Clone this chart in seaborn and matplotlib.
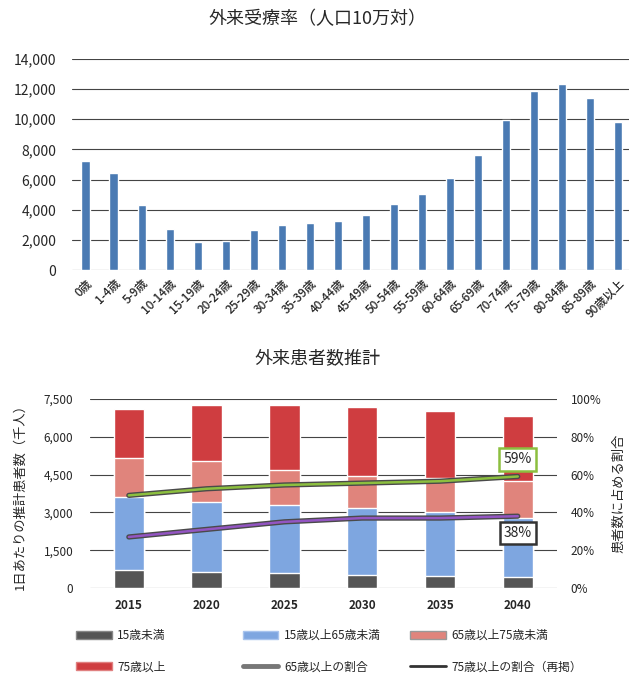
import numpy as np
import pandas as pd
import matplotlib
matplotlib.use("Agg")
import matplotlib.pyplot as plt
import seaborn as sns
from matplotlib.patches import Patch
from matplotlib.lines import Line2D

# 外来受療率（人口10万対）
age_groups = ["0歳", "1-4歳", "5-9歳", "10-14歳", "15-19歳", "20-24歳", "25-29歳",
              "30-34歳", "35-39歳", "40-44歳", "45-49歳", "50-54歳", "55-59歳",
              "60-64歳", "65-69歳", "70-74歳", "75-79歳", "80-84歳", "85-89歳", "90歳以上"]
rate = [7200, 6450, 4300, 2700, 1850, 1950, 2650, 3000, 3100, 3250, 3650,
        4350, 5050, 6100, 7630, 9950, 11900, 12350, 11400, 9800]

# 外来患者数推計（千人）
years = ["2015", "2020", "2025", "2030", "2035", "2040"]
under15 = [700, 650, 580, 530, 490, 450]
age15_64 = [2900, 2760, 2720, 2650, 2510, 2320]
age65_74 = [1550, 1610, 1390, 1260, 1350, 1460]
over75 = [1940, 2230, 2580, 2730, 2660, 2610]
share65 = [49, 52.5, 54.5, 55.5, 56.5, 59]
share75 = [27, 31, 35, 37, 37, 38]

c_dark = "#555555"
c_blue = "#7ea6e0"
c_pink = "#e0847c"
c_red = "#cf3d40"
c_green = "#8cbf3f"
c_purple = "#9355c2"
c_grid = "#444444"

sns.set_theme(style="white")
plt.rcParams["font.family"] = ["Noto Sans CJK JP", "DejaVu Sans"]

fig = plt.figure(figsize=(6.29, 6.75), dpi=100)

# ---- 上段：外来受療率 ----
ax1 = fig.add_axes([0.1137, 0.6, 0.891, 0.3126])
sns.barplot(x=age_groups, y=rate, color="#4a7ab3", saturation=1, width=0.29, ax=ax1)
ax1.set_ylim(0, 14000)
ax1.set_yticks(range(0, 14001, 2000))
ax1.set_yticklabels([f"{v:,}" for v in range(0, 14001, 2000)], fontsize=10)
ax1.yaxis.grid(True, color=c_grid, linewidth=0.8)
ax1.set_axisbelow(True)
for s in ax1.spines.values():
    s.set_visible(False)
ax1.tick_params(axis="both", length=0, pad=5)
ax1.tick_params(axis="y", pad=11)
plt.setp(ax1.get_xticklabels(), rotation=45, ha="right", rotation_mode="anchor",
         fontsize=8.5, fontweight="medium")
ax1.set_xlabel("")
ax1.set_ylabel("")
fig.text(0.505, 0.972, "外来受療率（人口10万対）", ha="center", va="center", fontsize=13)

# ---- 下段：外来患者数推計 ----
ax2 = fig.add_axes([0.143, 0.1289, 0.742, 0.28])
colors = [c_red, c_pink, c_blue, c_dark]
stack = np.array([under15, age15_64, age65_74, over75])
cum = np.cumsum(stack, axis=0)[::-1]
for vals, col in zip(cum, colors):
    sns.barplot(x=years, y=vals, color=col, saturation=1, width=0.39, ax=ax2)
ax2.set_ylim(0, 7500)
ax2.set_yticks(range(0, 7501, 1500))
ax2.set_yticklabels([f"{v:,}" for v in range(0, 7501, 1500)], fontsize=8.5)
ax2.yaxis.grid(True, color=c_grid, linewidth=0.8)
ax2.set_axisbelow(True)
for s in ax2.spines.values():
    s.set_visible(False)
ax2.tick_params(axis="both", length=0)
ax2.tick_params(axis="y", pad=12)
ax2.tick_params(axis="x", pad=8)
plt.setp(ax2.get_xticklabels(), fontsize=8.5, fontweight="bold")
ax2.set_xlabel("")
ax2.set_ylabel("1日あたりの推計患者数（千人）", fontsize=9.5, labelpad=12)

ax3 = ax2.twinx()
ax3.set_ylim(0, 100)
ax3.set_yticks(range(0, 101, 20))
ax3.set_yticklabels([f"{v}%" for v in range(0, 101, 20)], fontsize=8.5)
for s in ax3.spines.values():
    s.set_visible(False)
ax3.tick_params(axis="y", length=0, pad=10)
xpos = np.arange(len(years))
sns.lineplot(x=xpos, y=share65, color="#4a4a4a", linewidth=3.8, ax=ax3)
sns.lineplot(x=xpos, y=share65, color=c_green, linewidth=1.8, ax=ax3)
sns.lineplot(x=xpos, y=share75, color="#4a4a4a", linewidth=3.8, ax=ax3)
sns.lineplot(x=xpos, y=share75, color=c_purple, linewidth=1.8, ax=ax3)
ax3.set_xlim(-0.5, len(years) - 0.5)
ax3.set_ylabel("患者数に占める割合", fontsize=9.5, labelpad=8)

ax3.annotate(f"{share65[-1]:.0f}%", xy=(xpos[-1], share65[-1]), xytext=(xpos[-1], 68),
             ha="center", va="center", fontsize=10, zorder=10,
             bbox=dict(boxstyle="square,pad=0.3", fc="white", ec=c_green, lw=1.8))
ax3.annotate(f"{share75[-1]}%", xy=(xpos[-1], share75[-1]), xytext=(xpos[-1], 29),
             ha="center", va="center", fontsize=10, zorder=10,
             bbox=dict(boxstyle="square,pad=0.3", fc="white", ec="#333333", lw=1.8))

fig.text(0.505, 0.47, "外来患者数推計", ha="center", va="center", fontsize=13)

# 凡例（3列×2行）
legend_cols = [
    [Patch(facecolor=c_dark, edgecolor="#888888", label="15歳未満"),
     Patch(facecolor=c_red, edgecolor="#e08080", label="75歳以上")],
    [Patch(facecolor=c_blue, edgecolor="#a8c4ee", label="15歳以上65歳未満"),
     Line2D([0], [0], color="#777777", lw=3.5, label="65歳以上の割合")],
    [Patch(facecolor=c_pink, edgecolor="#999999", label="65歳以上75歳未満"),
     Line2D([0], [0], color="#333333", lw=2, label="75歳以上の割合（再掲）")],
]
xs = [0.121, 0.386, 0.652]
for x, handles in zip(xs, legend_cols):
    fig.legend(handles=handles, loc="upper left", bbox_to_anchor=(x, 0.068),
               frameon=False, fontsize=8.5, handlelength=3.0, handleheight=0.6,
               handletextpad=0.5, labelspacing=1.55, borderaxespad=0, borderpad=0)

fig.savefig("out.png", dpi=100)
